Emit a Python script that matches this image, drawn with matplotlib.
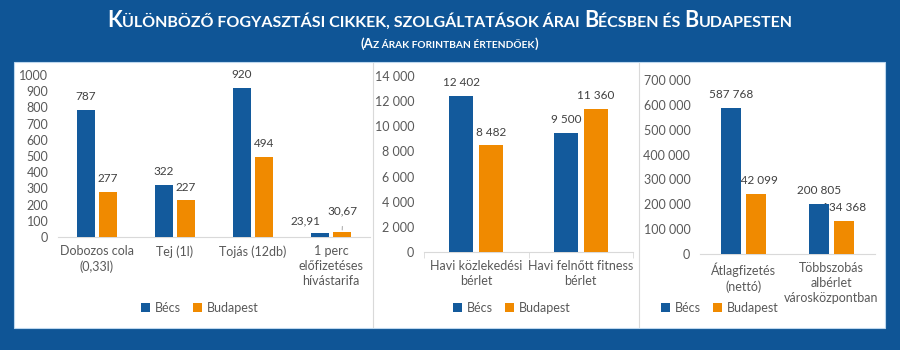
import matplotlib
matplotlib.use("Agg")
import matplotlib.pyplot as plt
from matplotlib.patches import Rectangle
from matplotlib.lines import Line2D
from matplotlib.transforms import IdentityTransform

# adatok
series = ["Bécs", "Budapest"]

cats1 = ["Dobozos cola\n(0,33l)", "Tej (1l)", "Tojás (12db)", "1 perc\nelőfizetéses\nhívástarifa"]
becs1 = [787, 322, 920, 23.91]
bp1 = [277, 227, 494, 30.67]

cats2 = ["Havi közlekedési\nbérlet", "Havi felnőtt fitness\nbérlet"]
becs2 = [12402, 9500]
bp2 = [8482, 11360]

cats3 = ["Átlagfizetés\n(nettó)", "Többszobás\nalbérlet\nvárosközpontban"]
becs3 = [587768, 200805]
bp3 = [242099, 134368]

title = "Különböző fogyasztási cikkek, szolgáltatások árai Bécsben és Budapesten"
subtitle = "(Az árak forintban értendőek)"

BG = "#0F5596"
C_BECS = "#135A9C"
C_BP = "#F08A00"
TICK = "#595959"
LAB = "#404040"
FONT = "Lato"
FS = 9

plt.rcParams["font.family"] = [FONT, "DejaVu Sans"]

W, H = 900, 350
fig = plt.figure(figsize=(9, 3.5), dpi=100, facecolor=BG)


def fx(x):
    return x / W


def fy(y):
    return 1 - y / H


# white panel + dividers
fig.patches.append(Rectangle((fx(14), fy(328)), fx(885) - fx(14), fy(62) - fy(328),
                             transform=fig.transFigure, facecolor="white",
                             edgecolor="#bdd7ee", lw=0.8, zorder=-2))
for xd in [372.5, 638.5]:
    fig.lines.append(Line2D([fx(xd), fx(xd)], [fy(63), fy(327)], transform=fig.transFigure,
                            color="#d9d9d9", lw=0.8, zorder=-1))


def fmt(v, sep=" "):
    if float(v).is_integer():
        return f"{int(v):,}".replace(",", sep)
    return f"{v:.2f}".replace(".", ",")


def panel(rect, cats, becs, bp, ymax, step, legend_x, minor=False, sep=" "):
    ax = fig.add_axes(rect)
    n = len(cats)
    xs = list(range(n))
    w = 0.23
    off = 0.143
    ax.bar([x - off for x in xs], becs, w, color=C_BECS, zorder=3, label=series[0])
    ax.bar([x + off for x in xs], bp, w, color=C_BP, zorder=3, label=series[1])
    ax.set_xlim(-0.5, n - 0.5)
    ax.set_ylim(0, ymax)
    ax.set_yticks(range(0, ymax + 1, step))
    ax.set_yticklabels([fmt(v, sep) for v in range(0, ymax + 1, step)])
    ax.set_xticks(xs)
    ax.set_xticklabels(cats, linespacing=1.3)
    for s in ["top", "right", "left"]:
        ax.spines[s].set_visible(False)
    ax.spines["bottom"].set_color("#d9d9d9")
    ax.tick_params(axis="y", length=0, pad=7, labelsize=FS, labelcolor=TICK)
    ax.tick_params(axis="x", length=0, pad=6, labelsize=FS, labelcolor=TICK)
    if minor:
        ax.set_xticks([i - 0.5 for i in range(n + 1)], minor=True)
        ax.tick_params(axis="x", which="minor", length=4, color="#d9d9d9")
    ax.set_facecolor("none")
    ax.legend(loc="center", bbox_to_anchor=(fx(legend_x), fy(308)), bbox_transform=fig.transFigure,
              ncol=2, frameon=False, fontsize=FS, labelcolor=TICK, handlelength=0.7,
              handleheight=0.7, handletextpad=0.4, columnspacing=1.0)
    return ax


def label(ax, x, v, dx=0, dy=9.5, line=False):
    kw = {}
    if line:
        kw["arrowprops"] = dict(arrowstyle="-", color="#a6a6a6", lw=0.7, shrinkA=5, shrinkB=1.5)
    ax.annotate(fmt(v), xy=(x, v), xytext=(dx, dy), textcoords="offset points",
                ha="center", va="center", fontsize=8.5, color=LAB, zorder=2, **kw)


ax1 = panel([fx(58), fy(237), fx(370) - fx(58), fy(75) - fy(237)], cats1, becs1, bp1, 1000, 100, 200, sep="")
ax2 = panel([fx(424), fy(252), fx(633) - fx(424), fy(76) - fy(252)], cats2, becs2, bp2, 14000, 2000, 512, minor=True)
ax3 = panel([fx(700), fy(254), fx(875) - fx(700), fy(80) - fy(254)], cats3, becs3, bp3, 700000, 100000, 720)

for ax, b, p in [(ax1, becs1, bp1), (ax2, becs2, bp2), (ax3, becs3, bp3)]:
    for i in range(len(b)):
        if ax is ax1 and i == 3:
            label(ax, i - 0.143, b[i], dx=-10, dy=9)
            label(ax, i + 0.143, p[i], dx=0.5, dy=15, line=True)
        else:
            label(ax, i - 0.143, b[i])
            label(ax, i + 0.143, p[i])

# title in small caps
renderer = fig.canvas.get_renderer()


def text_width(s, size):
    t = fig.text(0, 0, "|" + s + "|", fontsize=size, fontweight="bold", family=FONT)
    t2 = fig.text(0, 0, "||", fontsize=size, fontweight="bold", family=FONT)
    wdt = t.get_window_extent(renderer).width - t2.get_window_extent(renderer).width
    t.remove()
    t2.remove()
    return wdt


def small_caps(s, cx, base, big, small):
    runs = []
    for ch in s:
        size = big if (ch.isupper() or ch in "()") else small
        if runs and runs[-1][1] == size:
            runs[-1][0] += ch.upper()
        else:
            runs.append([ch.upper(), size])
    widths = [text_width(r, sz) for r, sz in runs]
    x = cx - sum(widths) / 2
    for (r, sz), wdt in zip(runs, widths):
        fig.text(x, base, r, fontsize=sz, fontweight="bold", family=FONT, color="white",
                 ha="left", va="baseline", transform=IdentityTransform())
        x += wdt


small_caps(title, 450, H - 27, 15.5, 11.5)
small_caps(subtitle, 449, H - 48, 9.5, 7.3)

fig.savefig("out.png", dpi=100, facecolor=BG)
